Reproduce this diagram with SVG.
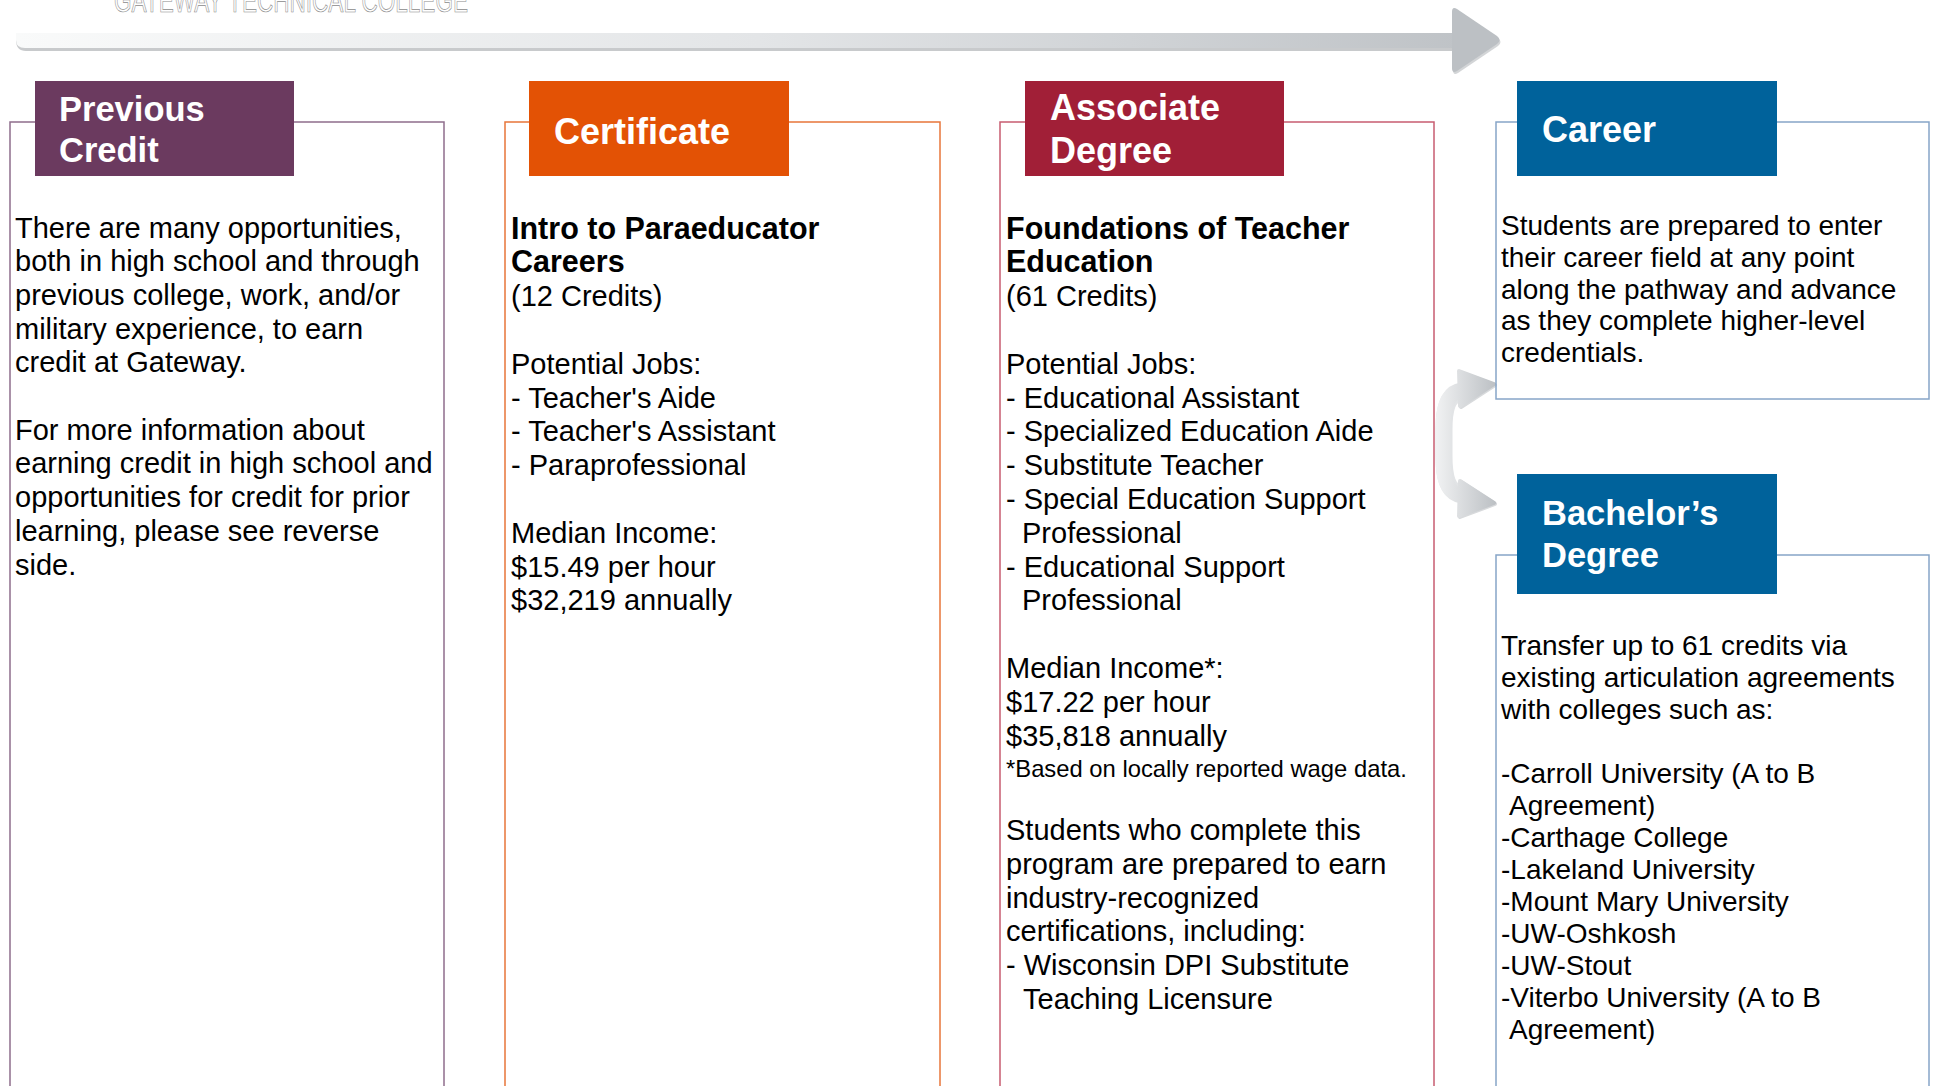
<svg xmlns="http://www.w3.org/2000/svg" width="1939" height="1086" viewBox="0 0 1939 1086">
<defs>
  <linearGradient id="barGrad" gradientUnits="userSpaceOnUse" x1="16" y1="0" x2="1500" y2="0">
    <stop offset="0" stop-color="#f9fafa"/>
    <stop offset="0.5" stop-color="#e3e5e7"/>
    <stop offset="1" stop-color="#bdc1c5"/>
  </linearGradient>
  <linearGradient id="curveGrad" gradientUnits="userSpaceOnUse" x1="1436" y1="0" x2="1496" y2="0">
    <stop offset="0" stop-color="#f1f2f3"/>
    <stop offset="1" stop-color="#bcc0c4"/>
  </linearGradient>
</defs>
<style>
  .hdr text { font-family: "Liberation Sans", Arial, sans-serif; font-weight: bold; font-size: 36px; fill: #ffffff; }
  .hdr text.n { font-size: 34.5px; }
  .body { font-family: "Liberation Sans", Arial, sans-serif; font-size: 29px; fill: #000000; }
  .b { font-weight: bold; font-size: 30.5px; }
  .r { font-size: 28px; }
  .fn { font-size: 23.8px; }
  .box { fill: none; stroke-width: 1.5; }
</style>
<rect width="1939" height="1086" fill="#ffffff"/>

<text x="114" y="12" font-family="Liberation Sans, Arial, sans-serif" font-size="34" fill="none" stroke="#8a8a8a" stroke-width="0.7" textLength="354" lengthAdjust="spacingAndGlyphs">GATEWAY TECHNICAL COLLEGE</text>

<g id="connectors">
  <g id="timeline-arrow">
    <path d="M16,40 Q16,51 26,51 H1456 V46 H26 Z" fill="#c8cacc"/>
    <path d="M16,33 H1456 V48 H25 Q16,48 16,40 Z" fill="url(#barGrad)"/>
    <path d="M1453,14 Q1453,8 1458,11 L1498,38 Q1503,42 1498,46 L1458,73 Q1453,76 1453,70 Z" fill="#d3d5d7"/>
    <path d="M1452,12 Q1452,6 1457,9 L1497,36 Q1502,40 1497,44 L1457,71 Q1452,74 1452,68 Z" fill="#bcc0c4"/>
  </g>
  <g id="branch-arrows">
    <path d="M1462,392 C1447,394 1444,410 1444,430 L1444,456 C1444,476 1447,492 1462,494" fill="none" stroke="#e2e4e6" stroke-width="17"/>
    <path d="M1462,390 C1447,392 1443,408 1443,428 L1443,458 C1443,478 1447,494 1462,496" fill="none" stroke="url(#curveGrad)" stroke-width="15"/>
    <polygon points="1460,372 1495,385 1461,407" fill="#d8dadc" stroke="#d8dadc" stroke-width="4" stroke-linejoin="round"/>
    <polygon points="1459,371 1494,384 1460,406" fill="url(#curveGrad)" stroke="url(#curveGrad)" stroke-width="4" stroke-linejoin="round"/>
    <polygon points="1461,482 1495,504 1460,517" fill="#d8dadc" stroke="#d8dadc" stroke-width="4" stroke-linejoin="round"/>
    <polygon points="1460,481 1494,503 1459,516" fill="url(#curveGrad)" stroke="url(#curveGrad)" stroke-width="4" stroke-linejoin="round"/>
  </g>
</g>

<g id="previous-credit">
  <rect class="box" x="10" y="122" width="434" height="1000" stroke="#8f6d8c"/>
  <g class="hdr">
    <rect x="35" y="81" width="259" height="95" fill="#6b3a5f"/>
    <text class="n" x="59" y="120.5">Previous</text>
    <text class="n" x="59" y="161.5">Credit</text>
  </g>
  <g class="body">
    <text x="15" y="237.5">There are many opportunities,</text>
    <text x="15" y="271.2">both in high school and through</text>
    <text x="15" y="304.9">previous college, work, and/or</text>
    <text x="15" y="338.6">military experience, to earn</text>
    <text x="15" y="372.3">credit at Gateway.</text>
    <text x="15" y="439.7">For more information about</text>
    <text x="15" y="473.4">earning credit in high school and</text>
    <text x="15" y="507.1">opportunities for credit for prior</text>
    <text x="15" y="540.8">learning, please see reverse</text>
    <text x="15" y="574.5">side.</text>
  </g>
</g>

<g id="certificate">
  <rect class="box" x="505" y="122" width="435" height="1000" stroke="#e8763a"/>
  <g class="hdr">
    <rect x="529" y="81" width="260" height="95" fill="#e35205"/>
    <text x="554" y="143.5">Certificate</text>
  </g>
  <g class="body">
    <text class="b" x="511" y="238.5">Intro to Paraeducator</text>
    <text class="b" x="511" y="272.3">Careers</text>
    <text x="511" y="306.1">(12 Credits)</text>
    <text x="511" y="373.7">Potential Jobs:</text>
    <text x="511" y="407.5">- Teacher's Aide</text>
    <text x="511" y="441.3">- Teacher's Assistant</text>
    <text x="511" y="475.1">- Paraprofessional</text>
    <text x="511" y="542.7">Median Income:</text>
    <text x="511" y="576.5">$15.49 per hour</text>
    <text x="511" y="610.3">$32,219 annually</text>
  </g>
</g>

<g id="associate-degree">
  <rect class="box" x="1000" y="122" width="434" height="1000" stroke="#c75c70"/>
  <g class="hdr">
    <rect x="1025" y="81" width="259" height="95" fill="#a11f37"/>
    <text x="1050" y="120">Associate</text>
    <text x="1050" y="163">Degree</text>
  </g>
  <g class="body">
    <text class="b" x="1006" y="238.5">Foundations of Teacher</text>
    <text class="b" x="1006" y="272.3">Education</text>
    <text x="1006" y="306.1">(61 Credits)</text>
    <text x="1006" y="373.7">Potential Jobs:</text>
    <text x="1006" y="407.5">- Educational Assistant</text>
    <text x="1006" y="441.3">- Specialized Education Aide</text>
    <text x="1006" y="475.1">- Substitute Teacher</text>
    <text x="1006" y="508.9">- Special Education Support</text>
    <text x="1022" y="542.7">Professional</text>
    <text x="1006" y="576.5">- Educational Support</text>
    <text x="1022" y="610.3">Professional</text>
    <text x="1006" y="677.9">Median Income*:</text>
    <text x="1006" y="711.7">$17.22 per hour</text>
    <text x="1006" y="745.5">$35,818 annually</text>
    <text class="fn" x="1006" y="777">*Based on locally reported wage data.</text>
    <text x="1006" y="840">Students who complete this</text>
    <text x="1006" y="873.8">program are prepared to earn</text>
    <text x="1006" y="907.6">industry-recognized</text>
    <text x="1006" y="941.4">certifications, including:</text>
    <text x="1006" y="975.2">- Wisconsin DPI Substitute</text>
    <text x="1023" y="1009">Teaching Licensure</text>
  </g>
</g>

<g id="career">
  <rect class="box" x="1496" y="122" width="433" height="277" stroke="#87a5c8"/>
  <g class="hdr">
    <rect x="1517" y="81" width="260" height="95" fill="#00629b"/>
    <text x="1542" y="142">Career</text>
  </g>
  <g class="body r">
    <text x="1501" y="235">Students are prepared to enter</text>
    <text x="1501" y="266.8">their career field at any point</text>
    <text x="1501" y="298.6">along the pathway and advance</text>
    <text x="1501" y="330.4">as they complete higher-level</text>
    <text x="1501" y="362.2">credentials.</text>
  </g>
</g>

<g id="bachelors-degree">
  <rect class="box" x="1496" y="555" width="433" height="600" stroke="#87a5c8"/>
  <g class="hdr">
    <rect x="1517" y="474" width="260" height="120" fill="#00629b"/>
    <text class="n" x="1542" y="525">Bachelor’s</text>
    <text class="n" x="1542" y="567">Degree</text>
  </g>
  <g class="body r">
    <text x="1501" y="655">Transfer up to 61 credits via</text>
    <text x="1501" y="687">existing articulation agreements</text>
    <text x="1501" y="719">with colleges such as:</text>
    <text x="1501" y="783">-Carroll University (A to B</text>
    <text x="1509" y="815">Agreement)</text>
    <text x="1501" y="847">-Carthage College</text>
    <text x="1501" y="879">-Lakeland University</text>
    <text x="1501" y="911">-Mount Mary University</text>
    <text x="1501" y="943">-UW-Oshkosh</text>
    <text x="1501" y="975">-UW-Stout</text>
    <text x="1501" y="1007">-Viterbo University (A to B</text>
    <text x="1509" y="1039">Agreement)</text>
  </g>
</g>
</svg>
